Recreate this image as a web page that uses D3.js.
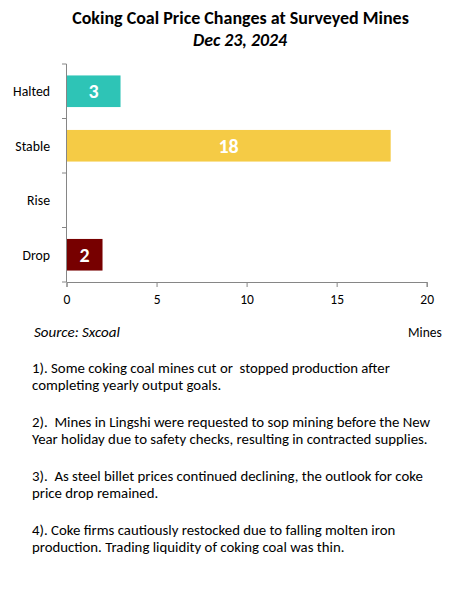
<!DOCTYPE html>
<html><head><meta charset="utf-8">
<script src="https://cdn.jsdelivr.net/npm/d3@7"></script>
<style>
body{margin:0;background:#fff;}
svg{display:block;font-family:Carlito,Calibri,Lato,sans-serif;}
</style></head>
<body>
<script>
const categories = ["Halted","Stable","Rise","Drop"];
const values = [3,18,0,2];
const colors = ["#2EC4B6","#F5CB45","#F5CB45","#770000"];
const xTicks = [0,5,10,15,20];
const title = "Coking Coal Price Changes at Surveyed Mines";
const subtitle = "Dec 23, 2024";
const source = "Source: Sxcoal";
const unit = "Mines";
const notes = [
  ["1). Some coking coal mines cut or  stopped production after","completing yearly output goals."],
  ["2).  Mines in Lingshi were requested to sop mining before the New","Year holiday due to safety checks, resulting in contracted supplies."],
  ["3).  As steel billet prices continued declining, the outlook for coke","price drop remained."],
  ["4). Coke firms cautiously restocked due to falling molten iron","production. Trading liquidity of coking coal was thin."]
];

const W=462,H=600;
const svg=d3.select("body").append("svg").attr("width",W).attr("height",H);

svg.append("text").attr("x",240.5).attr("y",24).attr("text-anchor","middle")
  .attr("font-weight","bold").attr("font-size",18).text(title);
svg.append("text").attr("x",240).attr("y",46).attr("text-anchor","middle")
  .attr("font-weight","bold").attr("font-style","italic").attr("font-size",17.8).text(subtitle);

const x=d3.scaleLinear().domain([0,20]).range([66.5,426.7]);
const y=d3.scaleBand().domain(categories).range([64,282]).paddingInner(0.42).paddingOuter(0.21);

// bars
svg.selectAll("rect.bar").data(categories).join("rect").attr("class","bar")
  .attr("x",x(0)).attr("y",d=>y(d))
  .attr("width",(d,i)=>x(values[i])-x(0)).attr("height",y.bandwidth())
  .attr("fill",(d,i)=>colors[i]);
svg.selectAll("text.val").data(categories.filter((d,i)=>values[i]>0)).join("text").attr("class","val")
  .attr("x",d=>(x(0)+x(values[categories.indexOf(d)]))/2)
  .attr("y",d=>y(d)+y.bandwidth()/2).attr("dy","0.36em")
  .attr("text-anchor","middle").attr("fill","#fff").attr("font-weight","bold").attr("font-size",20)
  .text(d=>values[categories.indexOf(d)]);

// y axis
const gy=svg.append("g");
gy.append("line").attr("x1",66.5).attr("x2",66.5).attr("y1",64).attr("y2",282).attr("stroke","#868686");
const bounds=[64].concat(categories.map(d=>y(d)+y.bandwidth()+y.step()*y.paddingInner()/2));
bounds.forEach(b=>gy.append("line").attr("x1",62).attr("x2",66.5).attr("y1",b).attr("y2",b).attr("stroke","#868686"));
gy.selectAll("text").data(categories).join("text")
  .attr("x",50).attr("y",d=>y(d)+y.bandwidth()/2).attr("dy","0.35em")
  .attr("text-anchor","end").attr("font-size",13.8).attr("fill","#000").text(d=>d);

// x axis
const gx=svg.append("g").attr("transform","translate(0,282)")
  .call(d3.axisBottom(x).tickValues(xTicks).tickSizeOuter(0).tickSize(5).tickPadding(7));
gx.select(".domain").attr("stroke","#868686");
gx.selectAll(".tick line").attr("stroke","#868686");
gx.selectAll(".tick text").attr("font-size",13.5).attr("font-family","Carlito,Calibri,Lato,sans-serif").attr("fill","#000");

svg.append("text").attr("x",34).attr("y",337).attr("font-style","italic").attr("font-size",15).text(source);
svg.append("text").attr("x",408).attr("y",337).attr("font-size",13.5).text(unit);

notes.forEach((p,i)=>{
  p.forEach((line,j)=>{
    svg.append("text").attr("x",32).attr("y",372.5+i*54+j*17.7)
      .attr("font-size",14.8).attr("xml:space","preserve").style("white-space","pre").text(line);
  });
});
</script>
</body></html>
